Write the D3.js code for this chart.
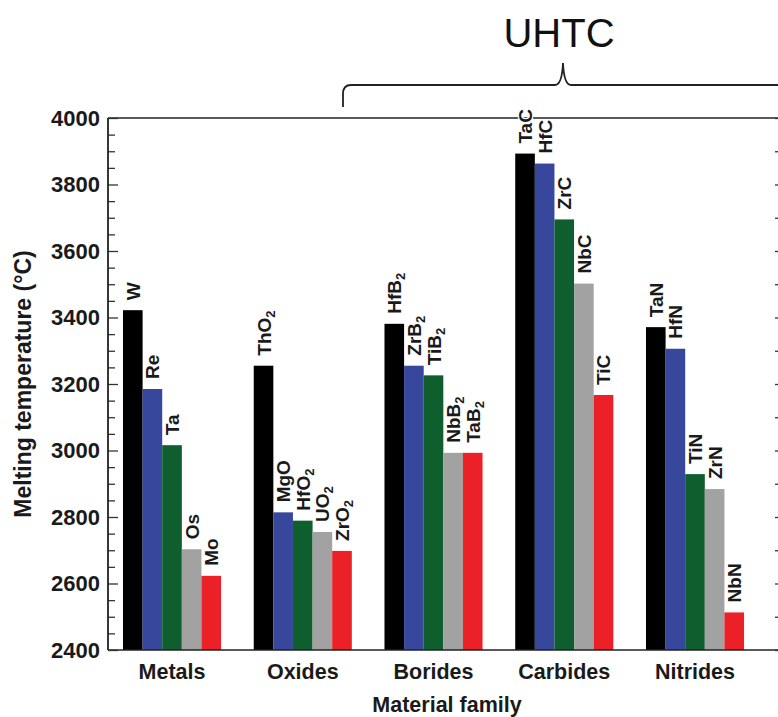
<!DOCTYPE html>
<html>
<head>
<meta charset="utf-8">
<script src="https://cdn.jsdelivr.net/npm/d3@7/dist/d3.min.js"></script>
<style>
  html, body { margin: 0; padding: 0; background: #fff; }
  svg { display: block; }
  text { font-family: 'Liberation Sans', Arial, Helvetica, sans-serif; }
</style>
</head>
<body>
<svg id="chart" width="778" height="717"></svg>
<script>
// ---- data ----
const families = ["Metals", "Oxides", "Borides", "Carbides", "Nitrides"];
const metalsNames   = ["W", "Re", "Ta", "Os", "Mo"];
const metalsValues  = [3422, 3185, 3016, 2703, 2623];
const oxidesNames   = ["ThO2", "MgO", "HfO2", "UO2", "ZrO2"];
const oxidesValues  = [3255, 2814, 2789, 2755, 2698];
const boridesNames  = ["HfB2", "ZrB2", "TiB2", "NbB2", "TaB2"];
const boridesValues = [3381, 3255, 3226, 2993, 2993];
const carbidesNames = ["TaC", "HfC", "ZrC", "NbC", "TiC"];
const carbidesValues= [3893, 3863, 3695, 3502, 3167];
const nitridesNames = ["TaN", "HfN", "TiN", "ZrN", "NbN"];
const nitridesValues= [3371, 3306, 2929, 2884, 2513];
const yTicks = [2400, 2600, 2800, 3000, 3200, 3400, 3600, 3800, 4000];
const groupLabel = "UHTC";

const names = [metalsNames, oxidesNames, boridesNames, carbidesNames, nitridesNames];
const values = [metalsValues, oxidesValues, boridesValues, carbidesValues, nitridesValues];
const ranks = [0, 1, 2, 3, 4];
const rankColors = ["#000000", "#36479c", "#0e5e2e", "#a2a2a2", "#ec2027"];

const svg = d3.select("#chart");
const pL = 108, pR = 781, pT = 118, pB = 650;

const x = d3.scaleBand().domain(families).range([pL, 777])
  .paddingInner(0.25).paddingOuter(0.1834).align(0.3126);
const xs = d3.scaleBand().domain(ranks).range([0, x.bandwidth()]).padding(0);
const y = d3.scaleLinear().domain([2400, 4000]).range([pB, pT]);

// bars
const rows = [];
families.forEach((f, i) => ranks.forEach(r => rows.push({ f, r, name: names[i][r], v: values[i][r] })));

svg.append("g").selectAll("rect").data(rows).join("rect")
  .attr("x", d => x(d.f) + xs(d.r))
  .attr("y", d => y(d.v))
  .attr("width", xs.bandwidth())
  .attr("height", d => y(2400) - y(d.v))
  .attr("fill", d => rankColors[d.r]);

// frame lines
const frame = svg.append("g").attr("stroke", "#222").attr("stroke-width", 1.6).attr("fill", "none");
frame.append("line").attr("x1", pL).attr("x2", pR).attr("y1", pT).attr("y2", pT);
frame.append("line").attr("x1", pL).attr("x2", pR).attr("y1", pB).attr("y2", pB);

// left axis: majors + minors inward
const yMinor = d3.range(2400, 4001, 50);
const la = svg.append("g").attr("transform", `translate(${pL},0)`);
la.call(d3.axisRight(y).tickValues(yMinor).tickSize(8).tickFormat(""));
la.select(".domain").remove();
la.append("line").attr("x1", 0).attr("x2", 0).attr("y1", pT).attr("y2", pB)
  .attr("stroke", "#222").attr("stroke-width", 1.8);
la.selectAll(".tick line").attr("stroke", "#333").attr("stroke-width", 1.3)
  .attr("x2", d => (d % 200 === 0 ? 10 : 7));

// right axis ticks (inward)
const ra = svg.append("g").attr("transform", `translate(${pR},0)`);
ra.call(d3.axisLeft(y).tickValues(d3.range(2400, 4001, 100)).tickSize(6).tickFormat(""));
ra.select(".domain").attr("stroke", "#222");
ra.selectAll(".tick line").attr("stroke", "#333").attr("stroke-width", 1.3);

// y tick labels
svg.append("g").selectAll("text").data(yTicks).join("text")
  .attr("x", 100).attr("y", d => y(d)).attr("dy", "0.36em")
  .attr("text-anchor", "end")
  .attr("font-size", 22).attr("font-weight", "bold").attr("fill", "#1a1a1a")
  .text(d => d);

// category labels
svg.append("g").selectAll("text").data(families).join("text")
  .attr("x", d => x(d) + x.bandwidth() / 2).attr("y", 679)
  .attr("text-anchor", "middle")
  .attr("font-size", 21.5).attr("font-weight", "bold").attr("fill", "#1a1a1a")
  .text(d => d);

// axis titles
svg.append("text").attr("x", 447).attr("y", 712).attr("text-anchor", "middle")
  .attr("font-size", 21.5).attr("font-weight", "bold").attr("fill", "#1a1a1a")
  .text("Material family");
svg.append("text").attr("transform", `translate(31,${(pT + pB) / 2}) rotate(-90)`)
  .attr("text-anchor", "middle")
  .attr("font-size", 23).attr("font-weight", "bold").attr("fill", "#1a1a1a")
  .text("Melting temperature (°C)");

// bar labels (rotated, subscript digits)
const labs = svg.append("g").selectAll("text").data(rows).join("text")
  .attr("transform", d => `translate(${x(d.f) + xs(d.r) + xs.bandwidth() / 2 + 7},${y(d.v) - 10}) rotate(-90)`)
  .attr("font-size", 19).attr("font-weight", "bold").attr("fill", "#1a1a1a")
  .attr("stroke", "#fff").attr("stroke-width", 2.5).attr("paint-order", "stroke")
  .attr("stroke-linejoin", "round");
labs.each(function (d) {
  const t = d3.select(this);
  const parts = d.name.match(/[A-Za-z]+|\d+/g);
  parts.forEach(p => {
    if (/\d/.test(p)) {
      t.append("tspan").attr("font-size", 13).attr("dy", 4).text(p);
    } else {
      t.append("tspan").text(p);
    }
  });
});

// UHTC bracket
svg.append("path")
  .attr("d", "M343,107 L343,94 Q343,85 351,85 L555,85 Q562,85 563,63 Q564,85 571,85 L781,85")
  .attr("fill", "none").attr("stroke", "#222").attr("stroke-width", 1.8);
svg.append("text").attr("x", 559).attr("y", 47).attr("text-anchor", "middle")
  .attr("font-size", 40).attr("fill", "#111")
  .attr("font-family", "'Open Sans', 'Liberation Sans', sans-serif")
  .text(groupLabel);
</script>
</body>
</html>
